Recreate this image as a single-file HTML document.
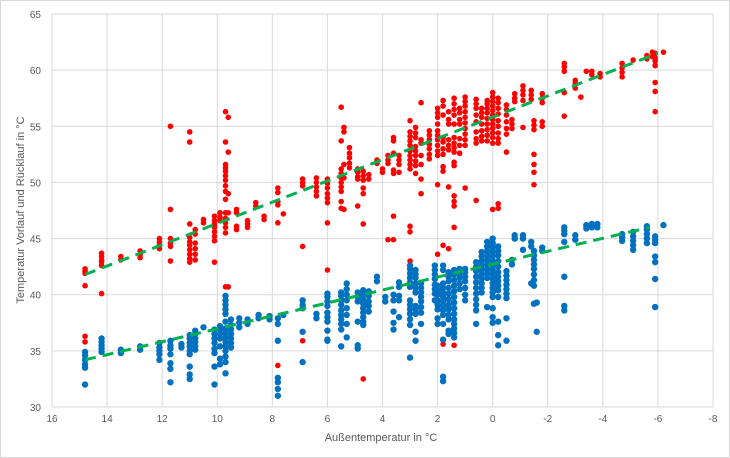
<!DOCTYPE html>
<html><head><meta charset="utf-8"><style>
html,body{margin:0;padding:0;background:#fff;}
svg{display:block;font-family:"Liberation Sans",sans-serif;}
</style></head><body>
<svg id="chart" width="730" height="458" xmlns="http://www.w3.org/2000/svg">
<rect x="0.5" y="0.5" width="729" height="457" fill="#fff" stroke="#d9d9d9"/>
<g id="grid"></g>
<g id="ticks"></g>
<g id="red"></g>
<g id="blue"></g>
<g id="trends"></g>
<text x="381" y="441" font-size="11" fill="#595959" text-anchor="middle">Außentemperatur  in °C</text>
<text transform="translate(24,210) rotate(-90)" font-size="11" fill="#595959" text-anchor="middle">Temperatur Vorlauf und Rücklauf in °C</text>
</svg>
<script>
const xTicks=[16,14,12,10,8,6,4,2,0,-2,-4,-6,-8];
const yTicks=[30,35,40,45,50,55,60,65];
const redTemps=[14.8,14.2,13.5,12.8,12.1,11.7,11.0,10.8,10.5,10.1,9.9,9.7,9.6,9.3,8.9,8.6,8.3,7.8,7.6,6.9,6.4,6.0,5.5,5.4,5.2,4.9,4.7,4.5,4.2,4.0,3.8,3.6,3.4,3.0,2.8,2.6,2.3,2.0,1.8,1.6,1.4,1.2,1.0,0.6,0.4,0.2,0.0,-0.2,-0.5,-0.7,-0.8,-1.1,-1.4,-1.5,-1.8,-2.6,-3.0,-3.2,-3.4,-3.6,-3.9,-4.7,-5.1,-5.6,-5.8,-5.9,-6.2];
const redVals=[[42.3,42.1,41.9,40.8,36.3,35.8],[43.7,43.4,43.1,42.9,42.6,40.1],[43.4,43.1],[43.9,43.6,43.3],[45.0,44.7,44.4,44.1],[55.0,47.6,45.0,44.6,44.3,43.0],[54.5,53.6,46.3,45.1,44.7,44.4,44.0,43.6,43.2,42.9],[45.8,45.4,44.6,44.1,43.6,43.1],[46.7,46.4],[47.0,46.6,46.3,46.0,45.6,45.2,44.8,42.9],[47.3,46.9,46.6],[56.3,53.6,51.6,51.3,51.0,50.6,50.2,49.7,49.2,48.5,47.3,46.8,46.4,46.0,45.5,40.7],[55.8,52.7,49.0,47.3,40.7],[47.6,47.3,46.1,45.8],[46.6,46.3,46.0],[48.2,47.9],[47.0,46.7],[49.5,49.1,48.3,48.0,46.4,33.7],[47.2],[50.3,50.0,49.7,44.3,35.9],[50.4,50.0,49.6,49.2,48.8],[50.3,49.9,49.5,49.0,48.6,48.2,46.4,42.2],[56.7,53.7,51.2,50.8,50.4,50.0,49.6,49.2,48.3,47.7],[54.9,54.5,51.6,50.4,47.6],[53.1,52.6,52.2,51.7,51.3],[50.9,50.5,51.2,50.3,47.9],[51.0,50.6,50.2,49.5,49.0,46.3,32.5],[50.7,50.3],[52.0,51.7],[51.2,50.9],[52.4,52.0,51.7,44.9],[54.0,53.7,52.6,51.1,50.8,47.0,44.9],[52.4,52.0,51.6,50.9],[55.5,54.5,54.1,53.7,53.3,52.8,52.4,52.0,51.6,51.2,46.1,45.6,43.0,42.6],[54.9,54.4,54.0,53.2,52.8,52.4,51.9,51.5,50.8],[57.1,53.8,53.5,52.4,51.6,50.3,49.0],[54.6,54.2,53.8,53.4,53.0,52.5,52.1],[56.6,56.2,55.8,55.2,54.6,54.2,53.8,53.3,52.8,52.4,49.8,43.6],[57.3,56.8,56.0,54.0,53.6,53.0,52.5,51.4,51.0,44.4,35.6],[56.3,55.6,55.2,53.8,53.3,52.9,49.6,44.1],[57.5,57.0,56.5,56.0,55.2,54.0,53.5,53.1,52.7,51.8,51.5,48.8,48.3,47.9,46.0,35.5],[56.6,56.2,55.6,55.2,53.9,53.3,52.6],[57.6,57.2,56.8,56.3,55.8,55.3,54.8,54.3,53.8,53.3,49.5],[57.4,57.0,56.6,56.0,55.4,54.5,53.9,53.5,48.4],[56.6,56.2,55.8,55.2,54.6,54.1,53.7],[57.3,57.0,56.6,56.2,55.7,55.2,54.7,54.2,53.7],[58.0,57.6,57.2,56.8,56.4,56.0,55.6,55.2,54.8,54.4,54.0,53.5,47.6],[57.5,57.1,56.6,56.1,55.5,55.0,54.4,53.9,53.5,48.1,47.7],[56.9,56.5,56.0,55.4,54.8,54.3,52.7],[55.6,55.2,54.8],[57.9,57.5,57.2],[58.6,58.2,57.8,57.3,54.9],[58.2,57.8,57.4],[55.5,55.1,54.7,52.5,51.6,50.9,49.8],[57.9,57.5,57.1,55.4,55.0],[60.6,60.3,59.9,58.0,55.9],[59.1,58.8,58.4],[57.6],[59.9],[59.9,59.6],[59.7,59.4],[60.6,60.2,59.8,59.4],[60.9],[61.0,61.3],[61.6,61.2],[61.5,61.1,60.8,60.4,58.9,58.1,56.3],[61.6]];
const blueTemps=[14.8,14.2,13.5,12.8,12.1,11.7,11.3,11.0,10.8,10.5,10.1,9.9,9.7,9.5,9.2,8.9,8.5,8.1,7.8,7.6,6.9,6.4,6.0,5.5,5.3,4.9,4.7,4.5,4.2,3.9,3.6,3.4,3.0,2.8,2.6,2.1,2.0,1.8,1.6,1.4,1.2,1.0,0.6,0.4,0.2,0.0,-0.2,-0.5,-0.7,-0.8,-1.1,-1.4,-1.5,-1.6,-1.8,-2.6,-3.0,-3.4,-3.6,-3.8,-4.7,-5.1,-5.6,-5.9,-6.2];
const blueVals=[[34.9,34.6,34.2,33.8,33.5,32.0],[36.1,35.8,35.5,35.2,34.9],[35.1,34.8],[35.4,35.1],[35.7,35.3,35.0,34.7,34.2],[35.9,35.5,35.2,34.7,33.9,33.4,32.2],[35.6,35.3],[36.4,36.1,35.7,35.4,35.0,34.7,33.6,32.9,32.5],[36.8,36.5,36.1,35.8,35.4,35.1],[37.1],[36.9,36.5,36.1,35.7,35.2,34.8,33.6,32.0],[37.2,36.9,36.5,36.1,35.4,34.3,33.8],[39.9,39.5,39.1,38.7,38.3,37.6,37.0,36.6,36.2,35.8,35.4,35.0,34.5,34.0,33.0],[37.8,37.3,36.9,36.5,36.1,35.7,35.3],[37.9,37.5,37.1],[37.8,37.4],[38.2,37.9],[38.1,37.8],[37.9,37.4,35.9,32.6,32.2,31.6,31.0],[38.2],[39.5,39.1,38.8,36.7,34.0],[38.3,37.9],[40.1,39.8,39.4,39.0,38.4,38.0,37.6,36.0,36.8,35.9],[40.2,39.9,39.5,39.1,38.6,38.2,37.8,37.4,36.9,35.4],[41.0,40.5,40.0,39.5,38.8,38.2,37.4,36.2],[40.2,39.8,39.4,37.6,35.5,35.2],[40.4,40.0,39.6,39.2,38.8,38.4,38.0,37.6,37.3],[40.3,39.9,39.4,39.0,38.5],[41.6,41.2],[39.8,39.4],[40.0,39.5,38.5,37.5,36.9],[41.1,40.7,39.9,39.5,38.0],[42.6,42.3,41.9,41.5,41.1,40.7,39.5,39.1,38.7,38.3,37.8,37.3,34.4],[42.2,41.8,41.5,41.0,40.6,40.2,39.0,38.7,38.3,36.7,35.9],[41.0,40.6,40.2,39.8,39.4,38.9,38.4,37.4],[42.6,42.2,41.8,41.4,40.9,40.5,40.1,39.5],[40.8,40.4,40.0,39.5,39.1,38.7,37.9,37.4],[42.6,42.2,41.0,40.6,40.2,39.8,39.4,39.0,38.6,38.2,37.4,36.0,32.7,32.3],[42.0,41.6,41.2,40.6,40.1,39.6,39.1,38.7,38.2,37.8,36.8,36.5],[42.2,41.8,41.3,40.8,40.3,39.8,39.3,38.8,38.3,37.8,37.4,37.0,36.6,36.2],[42.3,41.9,41.5,41.0,40.5],[42.3,42.0,41.6,41.2,40.6,40.0,39.5],[42.9,42.5,42.1,41.6,41.1,40.6,40.1,39.6,39.1,38.6,37.4],[43.8,43.4,43.0,42.6,42.2,41.8,41.4,41.0,40.6,40.2],[44.7,44.3,43.9,43.5,43.1,42.7,42.3,41.9,41.5,38.9],[45.0,44.6,44.2,43.8,43.4,43.0,42.6,42.2,41.8,41.4,41.0,40.6,40.2,39.8,38.8,38.0,37.5],[44.3,43.9,43.5,43.0,42.5,42.0,41.6,41.2,40.8,40.4,39.8,37.6,36.4,35.5],[42.1,41.7,41.3,40.9,40.5,40.1,39.7,37.9,35.9],[43.1,42.7],[45.3,45.0],[45.3,45.0,44.0],[44.7,44.3,41.0],[43.9,43.5,43.1,42.7,42.3,41.8,41.3,40.8,39.2],[39.3,36.7],[44.2,43.9],[46.0,45.7,45.4,44.7,41.6,39.0,38.6],[45.3,44.9],[46.2,45.9],[46.3,46.0],[46.3,46.0],[45.4,45.1,44.8],[45.6,45.2,44.8,44.4,44.0],[46.1,45.8,45.4,45.0,44.6],[45.2,44.9,44.6,43.4,42.9,41.4,38.9],[46.2]];
const redTrend=[[14.8,41.8],[-6.0,61.5]];
const blueTrend=[[14.8,34.2],[-5.7,46.0]];

const NS="http://www.w3.org/2000/svg";
const X0=52,X1=713,Y0=407,Y1=14;
function sx(t){return X0+(16-t)/(16-(-8))*(X1-X0);}
function sy(v){return Y0-(v-30)/(65-30)*(Y0-Y1);}
function mk(tag,attrs,parent){const e=document.createElementNS(NS,tag);for(const k in attrs)e.setAttribute(k,attrs[k]);parent.appendChild(e);return e;}
const grid=document.getElementById('grid'),ticks=document.getElementById('ticks');
xTicks.forEach(t=>{
 const l=mk('line',{x1:sx(t),x2:sx(t),y1:Y1,y2:Y0,stroke:'#d9d9d9','stroke-width':1},grid);
 
 
 const tx=mk('text',{x:sx(t),y:Y0+15,'font-size':10,fill:'#595959','text-anchor':'middle'},ticks);
 tx.textContent=t;
 
 
});
yTicks.forEach(v=>{
 const l=mk('line',{x1:X0,x2:X1,y1:sy(v),y2:sy(v),stroke:'#d9d9d9','stroke-width':1},grid);
 
 
 const tx=mk('text',{x:X0-11,y:sy(v)+4,'font-size':10,fill:'#595959','text-anchor':'end'},ticks);
 tx.textContent=v;
 
 
});
function drawSeries(temps,vals,gid,color,r,name){
 const g=document.getElementById(gid);
 temps.forEach((t,i)=>vals[i].forEach(v=>{
  const c=mk('circle',{cx:sx(t),cy:sy(v),r:r,fill:color},g);
  
  
 }));
}
drawSeries(redTemps,redVals,'red','#ff0000',2.8,'vorlauf-point');
drawSeries(blueTemps,blueVals,'blue','#0070c0',3.2,'ruecklauf-point');
const tg=document.getElementById('trends');
[redTrend,blueTrend].forEach((tr,i)=>{
 const l=mk('line',{x1:sx(tr[0][0]),y1:sy(tr[0][1]),x2:sx(tr[1][0]),y2:sy(tr[1][1]),stroke:'#00b050','stroke-width':3,'stroke-dasharray':'11 7'},tg);
 
 
});
</script>
</body></html>
